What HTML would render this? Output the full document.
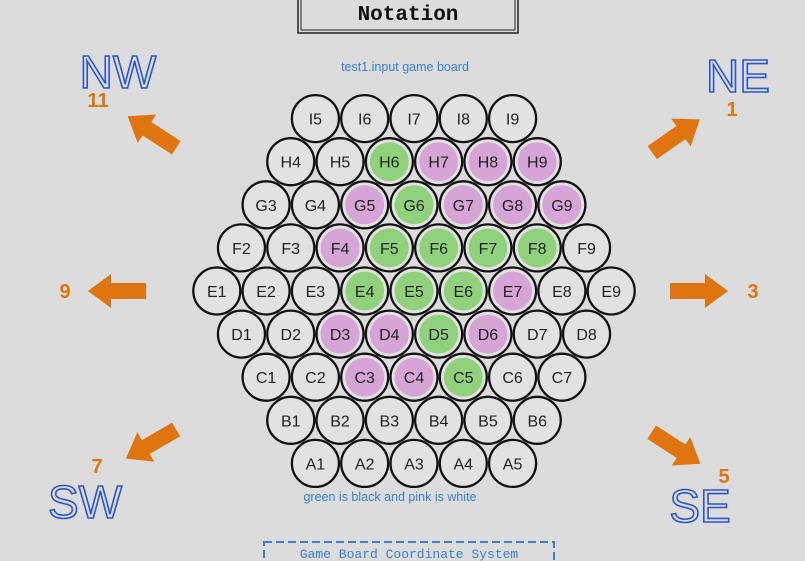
<!DOCTYPE html>
<html><head><meta charset="utf-8"><style>
html,body{margin:0;padding:0;background:#dcdcdc;}
svg{display:block;}
</style></head><body>
<svg id="board" width="805" height="561" viewBox="0 0 805 561" xmlns="http://www.w3.org/2000/svg" font-family="Liberation Sans, sans-serif">
<rect width="805" height="561" fill="#dcdcdc"/>
<g>
<rect x="298" y="-4" width="220" height="37" fill="none" stroke="#222" stroke-width="1.5"/>
<rect x="301" y="-4" width="214" height="34" fill="none" stroke="#222" stroke-width="1"/>
<text x="408" y="20" text-anchor="middle" font-family="Liberation Mono, monospace" font-weight="bold" font-size="21" fill="#111">Notation</text>
</g>
<text x="405" y="71" text-anchor="middle" font-size="12.5" fill="#3a80d0">test1.input game board</text>
<text x="390" y="501" text-anchor="middle" font-size="12.5" fill="#3a80d0">green is black and pink is white</text>
<g>
<rect x="264" y="542" width="290" height="30" fill="none" stroke="#3a80d0" stroke-width="2" stroke-dasharray="8,4"/>
<text x="409" y="558" text-anchor="middle" font-family="Liberation Mono, monospace" font-size="13" fill="#3a80d0">Game Board Coordinate System</text>
</g>
<g id="cells"></g>
<g id="dirs"></g>
</svg>
<script>
const rowLabels=["I","H","G","F","E","D","C","B","A"];
const rowStart=[5,4,3,2,1,1,1,1,1];
const rowCount=[5,6,7,8,9,8,7,6,5];
const greenCells=["H6","G6","F5","F6","F7","F8","E4","E5","E6","D5","C5"];
const pinkCells=["H7","H8","H9","G5","G7","G8","G9","F4","E7","D3","D4","D6","C3","C4"];
const dirLabels=["11","1","9","3","7","5"];
const dirNames=["NW","NE","","","SW","SE"];
const dirAngles=[-147,-35,180,0,150,33];
const NS="http://www.w3.org/2000/svg";
const cx=414, cy=291, dx=49.3, dy=43.1, r=23.5;
const cells=document.getElementById('cells');
rowLabels.forEach((lab,i)=>{
  const n=rowCount[i];
  const y=cy+(i-4)*dy;
  for(let k=0;k<n;k++){
    const x=cx+(k-(n-1)/2)*dx;
    const id=lab+(rowStart[i]+k);
    const g=document.createElementNS(NS,'g');
    
    
    const c=document.createElementNS(NS,'circle');
    c.setAttribute('cx',x);c.setAttribute('cy',y);c.setAttribute('r',r);
    c.setAttribute('fill','#e2e2e2');c.setAttribute('stroke','#111');c.setAttribute('stroke-width','2.3');
    g.appendChild(c);
    let fill=null;
    if(greenCells.includes(id))fill='#90d27c';
    if(pinkCells.includes(id))fill='#d6a4d7';
    if(fill){const b=document.createElementNS(NS,'circle');b.setAttribute('cx',x);b.setAttribute('cy',y);b.setAttribute('r',r-4);b.setAttribute('fill',fill);g.appendChild(b);}
    const t=document.createElementNS(NS,'text');
    t.setAttribute('x',x);t.setAttribute('y',y+6);t.setAttribute('text-anchor','middle');
    t.setAttribute('font-size','16');t.setAttribute('fill','#222');t.textContent=id;
    g.appendChild(t);
    cells.appendChild(g);
  }
});
const dirs=document.getElementById('dirs');
const arrowPos=[[152,132],[676,136],[117,291],[699,291],[151,444],[676,448]];
const numPos=[[98,107],[732,116],[65,298],[753,298],[97,473],[724,483]];
const namePos=[[118,88],[738,92],[0,0],[0,0],[85,518],[700,522]];
dirLabels.forEach((lab,i)=>{
  const g=document.createElementNS(NS,'g');
  
  
  const p=document.createElementNS(NS,'polygon');
  p.setAttribute('points','-29,-8 6,-8 6,-17 29,0 6,17 6,8 -29,8');
  p.setAttribute('fill','#e07510');
  p.setAttribute('transform','translate('+arrowPos[i][0]+','+arrowPos[i][1]+') rotate('+dirAngles[i]+')');
  g.appendChild(p);
  const t=document.createElementNS(NS,'text');
  t.setAttribute('x',numPos[i][0]);t.setAttribute('y',numPos[i][1]);t.setAttribute('text-anchor','middle');
  t.setAttribute('font-size','20');t.setAttribute('font-weight','bold');t.setAttribute('fill','#e07510');
  t.textContent=lab;g.appendChild(t);
  if(dirNames[i]){
    const n=document.createElementNS(NS,'text');
    n.setAttribute('x',namePos[i][0]);n.setAttribute('y',namePos[i][1]);n.setAttribute('text-anchor','middle');
    n.setAttribute('font-size','46');n.setAttribute('fill','none');n.setAttribute('stroke','#2a55d0');n.setAttribute('stroke-width','1.6');
    n.textContent=dirNames[i];g.appendChild(n);
  }
  dirs.appendChild(g);
});
</script>
</body></html>
